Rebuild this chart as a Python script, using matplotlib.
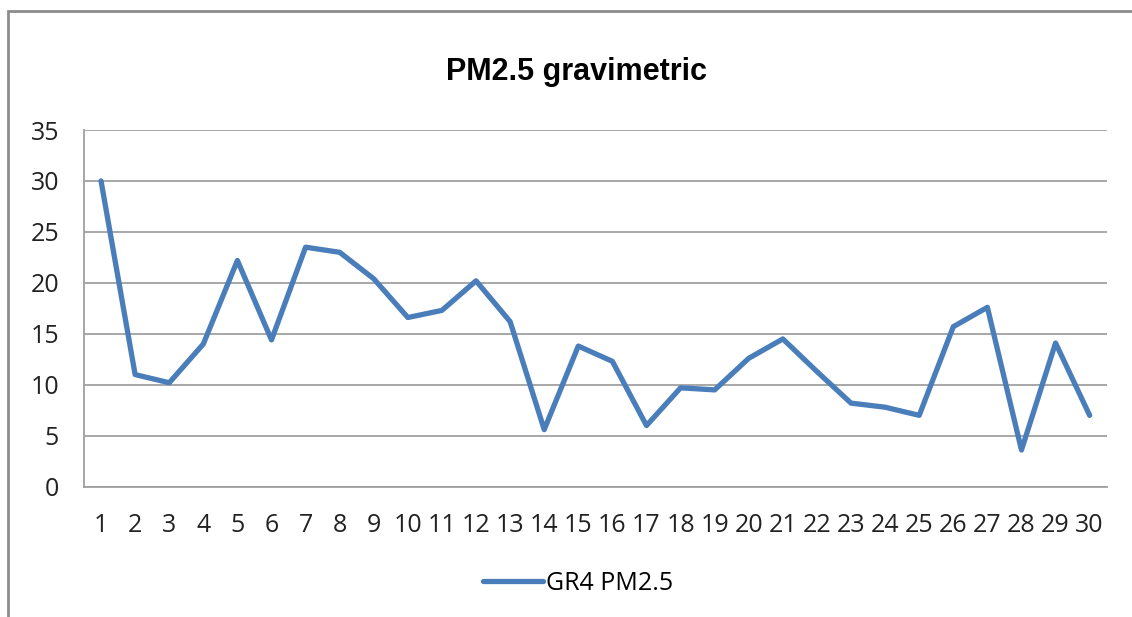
import matplotlib
matplotlib.use("Agg")
import matplotlib.pyplot as plt
from matplotlib.patches import Rectangle
from matplotlib.lines import Line2D

days = list(range(1, 31))
pm25 = [30.0, 11.0, 10.2, 14.0, 22.2, 14.4, 23.5, 23.0, 20.4, 16.6,
        17.3, 20.2, 16.2, 5.6, 13.8, 12.3, 6.0, 9.7, 9.5, 12.6,
        14.5, 11.3, 8.2, 7.8, 7.0, 15.7, 17.6, 3.6, 14.1, 7.0]
yticks = [0, 5, 10, 15, 20, 25, 30, 35]
title = "PM2.5 gravimetric"
series_name = "GR4 PM2.5"

W, H = 1132, 617
fig = plt.figure(figsize=(W / 100, H / 100), dpi=100)
fig.patch.set_facecolor("white")

ax = fig.add_axes([84 / W, 1 - 486.7 / H, (1106.7 - 84) / W, (486.7 - 130) / H])
ax.plot(days, pm25, color="#4a7ebb", lw=3.8, solid_joinstyle="round", solid_capstyle="round",
        label=series_name, zorder=3)
ax.set_xlim(0.5, 30.5)
ax.set_ylim(0, 35)
ax.set_yticks(yticks)
ax.set_xticks(days)
ax.set_xticklabels([str(d) for d in days])
ax.grid(axis="y", color="#a0a0a0", lw=1.3)
ax.set_axisbelow(True)
for s in ["top", "right"]:
    ax.spines[s].set_visible(False)
for s in ["left", "bottom"]:
    ax.spines[s].set_color("#a0a0a0")
    ax.spines[s].set_linewidth(1.3)
ax.tick_params(axis="both", length=0)
ax.tick_params(axis="y", pad=18)
ax.tick_params(axis="x", pad=19)
for lab in ax.get_xticklabels() + ax.get_yticklabels():
    lab.set_fontfamily("Open Sans")
    lab.set_fontsize(18)
    lab.set_color("#222222")

fig.text(576 / W, 1 - 72 / H, title, ha="center", va="center",
         family="Liberation Sans", weight="bold", fontsize=22, color="black")

handle = Line2D([], [], color="#4a7ebb", lw=3.8, solid_capstyle="round")
fig.legend([handle], [series_name], loc="center", bbox_to_anchor=(578 / W, 1 - 583 / H),
           frameon=False, handlelength=2.4, handletextpad=0.15,
           prop=dict(family="Open Sans", size=18))

# outer chart border
fig.add_artist(Rectangle((8 / W, -0.1), 1.2, 1.1 - 11 / H, transform=fig.transFigure,
                         fill=False, edgecolor="#8c8c8c", lw=2, clip_on=False))

fig.savefig("out.png", dpi=100)
